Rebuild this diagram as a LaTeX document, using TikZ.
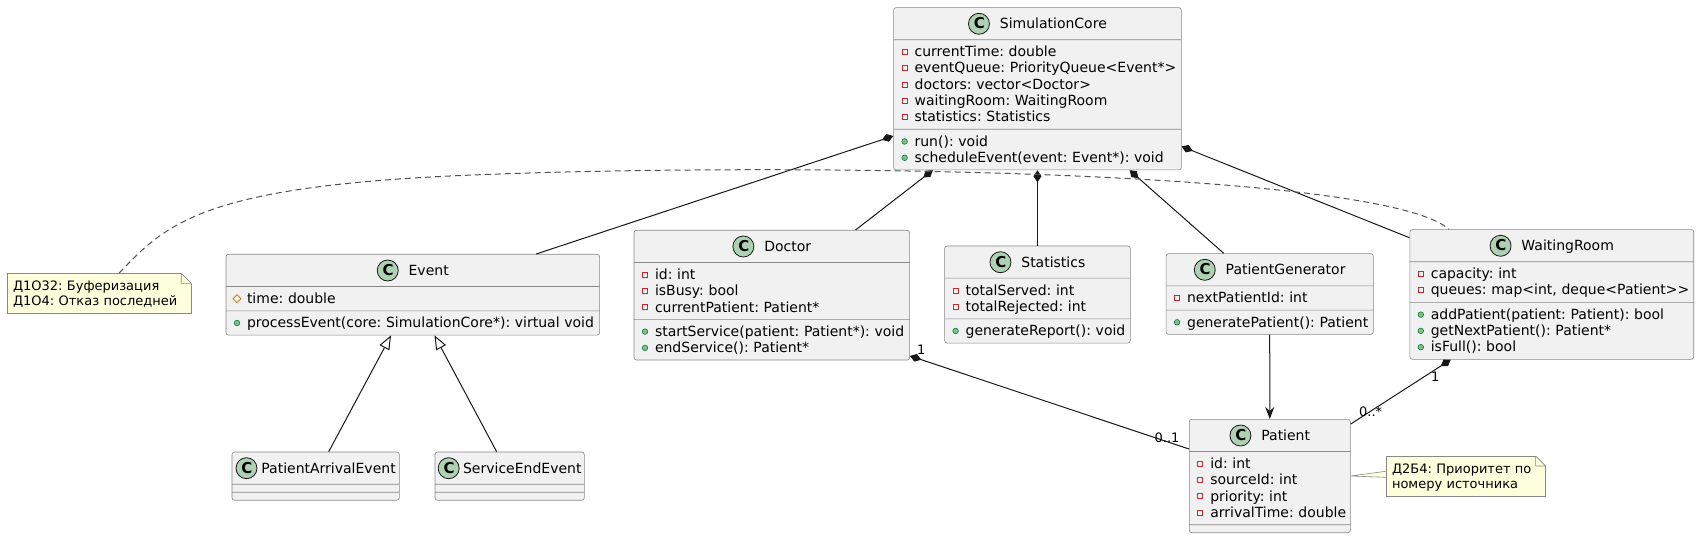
\documentclass[tikz,border=0pt]{standalone}
\usepackage{fontspec}
\setmainfont{DejaVu Sans}
\usetikzlibrary{shapes.multipart, arrows.meta}
\frenchspacing

\definecolor{umlborder}{HTML}{181818}
\definecolor{boxborder}{HTML}{888888}
\definecolor{boxfill}{HTML}{F1F1F1}
\definecolor{iconfill}{HTML}{ADD1B2}
\definecolor{notefill}{HTML}{FEFFDD}
\definecolor{privcol}{HTML}{C82930}
\definecolor{pubfill}{HTML}{84BE84}
\definecolor{pubdraw}{HTML}{038048}
\definecolor{protcol}{HTML}{B38D22}

\newcommand{\umlstrut}{\rule[-3.4pt]{0pt}{16.3pt}}
\newcommand{\notestrut}{\rule[-3pt]{0pt}{15pt}}
\newcommand{\classicon}{\tikz[baseline=-5pt]\filldraw[fill=iconfill, draw=umlborder, line width=0.8pt] (0pt,0pt) circle (10.5pt);\hspace{-21pt}\makebox[21pt]{\fontsize{15}{15}\selectfont\bfseries C}}
\newcommand{\umltitle}[2]{\hfill\mbox{\classicon\hspace{#1}#2}\hfill\rule[-7pt]{0pt}{24.2pt}}
\newcommand{\mpriv}[1]{\mbox{\umlstrut\tikz[baseline=-4.7pt]{\path (0pt,0pt) (12pt,0pt); \draw[privcol, line width=0.8pt, sharp corners] (3.5pt,-2.5pt) rectangle (8.5pt,2.5pt);}\hspace{4pt}#1}}
\newcommand{\mpub}[1]{\mbox{\umlstrut\tikz[baseline=-4.7pt]{\path (0pt,0pt) (12pt,0pt); \filldraw[fill=pubfill, draw=pubdraw, line width=0.6pt] (6pt,0pt) circle (2.8pt);}\hspace{4pt}#1}}
\newcommand{\mprot}[1]{\mbox{\umlstrut\tikz[baseline=-4.7pt]{\path (0pt,0pt) (12pt,0pt); \draw[protcol, line width=0.8pt, sharp corners] (6pt,4pt) -- (10pt,0pt) -- (6pt,-4pt) -- (2pt,0pt) -- cycle;}\hspace{4pt}#1}}

\begin{document}
\begin{tikzpicture}[x=1pt, y=-1pt]
    % Define styles
    \tikzstyle{umlclass} = [draw=boxborder, line width=0.6pt, fill=boxfill, rectangle split, rectangle split parts=3, rounded corners=2.5pt, inner xsep=5pt, inner ysep=3.7pt, align=left, anchor=north west, font=\fontsize{14}{16.3}\selectfont]
    \tikzstyle{umlnote} = [draw=boxborder, line width=0.6pt, fill=notefill, align=left, anchor=north west, inner xsep=6pt, inner ysep=5pt, font=\fontsize{13}{15}\selectfont]
    \tikzstyle{comp} = [draw=umlborder, line width=1pt, {Diamond[length=12pt, width=8pt]}-]
    \tikzstyle{inherit} = [draw=umlborder, line width=1pt, -{Triangle[open, length=14pt, width=11pt]}]
    \tikzstyle{assoc} = [draw=umlborder, line width=1pt, -{Stealth[length=12pt, width=9pt, inset=4pt]}]
    \tikzstyle{notelink} = [draw=umlborder!75!white, line width=1pt, dash pattern=on 6pt off 4pt]
    \tikzstyle{mult} = [inner sep=0pt, font=\fontsize{13}{13}\selectfont]

    \useasboundingbox (0,0) rectangle (1699,537);

    % Classes
    \node[umlclass, text width=277.7pt] (core) at (893.3, 7.3) {\umltitle{10pt}{SimulationCore}
        \nodepart{two}\mpriv{currentTime: double}\\\mpriv{eventQueue: PriorityQueue<Event*>}\\\mpriv{doctors: vector<Doctor>}\\\mpriv{waitingRoom: WaitingRoom}\\\mpriv{statistics: Statistics}
        \nodepart{three}\mpub{run(): void}\\\mpub{scheduleEvent(event: Event*): void}};
    \node[umlclass, text width=363.6pt] (event) at (225.7, 254) {\umltitle{10pt}{Event}
        \nodepart{two}\mprot{time: double}
        \nodepart{three}\mpub{processEvent(core: SimulationCore*): virtual void}};
    \node[umlclass, text width=162.3pt, inner xsep=2.5pt] (arrival) at (231.7, 451.7) {\umltitle{4pt}{PatientArrivalEvent}
        \nodepart{two}\nodepart{three}};
    \node[umlclass, text width=144.3pt, inner xsep=2.5pt] (serviceend) at (434.7, 451.7) {\umltitle{3.5pt}{ServiceEndEvent}
        \nodepart{two}\nodepart{three}};
    \node[umlclass, text width=265.6pt] (doctor) at (633.7, 230) {\umltitle{10pt}{Doctor}
        \nodepart{two}\mpriv{id: int}\\\mpriv{isBusy: bool}\\\mpriv{currentPatient: Patient*}
        \nodepart{three}\mpub{startService(patient: Patient*): void}\\\mpub{endService(): Patient*}};
    \node[umlclass, text width=175.7pt] (stats) at (944.3, 245.7) {\umltitle{10pt}{Statistics}
        \nodepart{two}\mpriv{totalServed: int}\\\mpriv{totalRejected: int}
        \nodepart{three}\mpub{generateReport(): void}};
    \node[umlclass, text width=197.2pt] (generator) at (1165.8, 253.3) {\umltitle{10pt}{PatientGenerator}
        \nodepart{two}\mpriv{nextPatientId: int}
        \nodepart{three}\mpub{generatePatient(): Patient}};
    \node[umlclass, text width=273.9pt] (waiting) at (1409.5, 229.3) {\umltitle{10pt}{WaitingRoom}
        \nodepart{two}\mpriv{capacity: int}\\\mpriv{queues: map<int, deque<Patient>{}>}
        \nodepart{three}\mpub{addPatient(patient: Patient): bool}\\\mpub{getNextPatient(): Patient*}\\\mpub{isFull(): bool}};
    \node[umlclass, text width=151pt] (patient) at (1189, 419) {\umltitle{10pt}{Patient}
        \nodepart{two}\mpriv{id: int}\\\mpriv{sourceId: int}\\\mpriv{priority: int}\\\mpriv{arrivalTime: double}
        \nodepart{three}};

    % Notes
    \node[umlnote, text width=171.9pt] (note1) at (6.7, 273.3) {\mbox{\notestrut Д1О32: Буферизация}\\\mbox{\notestrut Д1О4: Отказ последней}};
    \node[umlnote, text width=147.3pt] (note2) at (1385.7, 456) {\mbox{\notestrut Д2Б4: Приоритет по}\\\mbox{\notestrut номеру источника}};
    \fill[white] ([xshift=-10pt]note1.north east) -- ([xshift=-10pt, yshift=2pt]note1.north east) -- ([xshift=2pt, yshift=2pt]note1.north east) -- ([xshift=2pt, yshift=-10pt]note1.north east) -- ([yshift=-10pt]note1.north east) -- cycle;
    \draw[boxborder, line width=0.6pt] ([xshift=-10pt]note1.north east) -- ([yshift=-10pt]note1.north east) ([xshift=-10pt]note1.north east) |- ([yshift=-10pt]note1.north east);
    \fill[white] ([xshift=-10pt]note2.north east) -- ([xshift=-10pt, yshift=2pt]note2.north east) -- ([xshift=2pt, yshift=2pt]note2.north east) -- ([xshift=2pt, yshift=-10pt]note2.north east) -- ([yshift=-10pt]note2.north east) -- cycle;
    \draw[boxborder, line width=0.6pt] ([xshift=-10pt]note2.north east) -- ([yshift=-10pt]note2.north east) ([xshift=-10pt]note2.north east) |- ([yshift=-10pt]note2.north east);

    % Composition arrows
    \draw[comp] (core) -- (event);
    \draw[comp] (core) -- (doctor);
    \draw[comp] (core) -- (stats);
    \draw[comp] (core) -- (generator);
    \draw[comp] (core) -- (waiting);
    \draw[comp] ([yshift=4.4pt]doctor.south east) -- node[mult, pos=0, xshift=11.4pt, yshift=6pt] {1} node[mult, pos=1, xshift=-22pt, yshift=11pt] {0..1} ([yshift=27pt]patient.west);
    \draw[comp] (waiting) -- node[mult, pos=0, xshift=-15.6pt, yshift=-16.7pt] {1} node[mult, pos=1, xshift=20pt, yshift=12.5pt] {0..*} (patient);

    % Inheritance and association arrows
    \draw[inherit] (arrival) -- (event);
    \draw[inherit] (serviceend) -- (event);
    \draw[assoc] (generator) -- (patient);

    % Note links
    \draw[notelink] ([xshift=20pt]note1.north) .. controls (165,225) and (200,188) .. (450,176) .. controls (750,162) and (1380,168) .. ([xshift=39.5pt]waiting.north west);
    \fill[notefill] (patient.east) -- ([yshift=5pt]note2.west) -- ([yshift=-1pt]note2.west) -- cycle;
    \draw[boxborder, line width=0.6pt] ([yshift=5pt]note2.west) -- (patient.east) -- ([yshift=-1pt]note2.west);
\end{tikzpicture}
\end{document}
